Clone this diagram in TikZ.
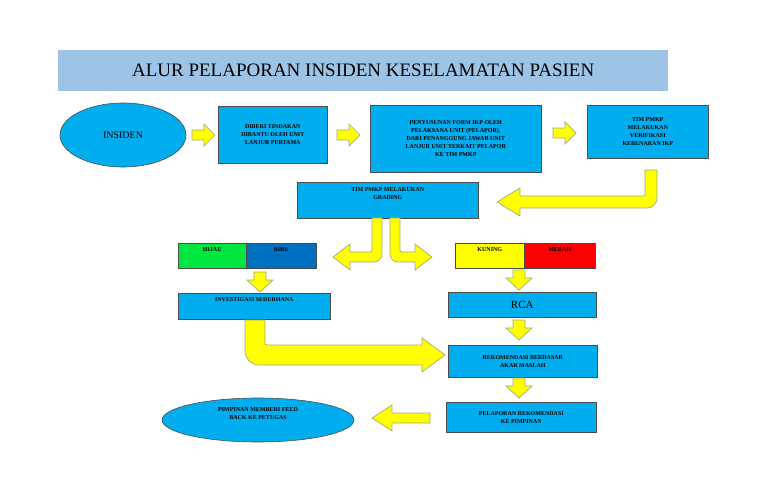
\documentclass[tikz,border=0pt]{standalone}
\usepackage{fontspec}
\setmainfont{Liberation Serif}
\usetikzlibrary{shapes.geometric}
\definecolor{bx}{HTML}{00AEEF}
\definecolor{ttl}{HTML}{9DC3E6}
\definecolor{ar}{HTML}{FFFF00}
\definecolor{arl}{HTML}{A6A68A}
\definecolor{gr}{HTML}{00E640}
\definecolor{bl}{HTML}{0070C0}
\tikzset{
 box/.style={draw=black!70,fill=bx,line width=0.6pt,inner sep=1pt,align=center,font=\fontsize{6}{8}\selectfont\bfseries},
 oval/.style={draw=black!70,fill=bx,line width=0.6pt,ellipse,inner sep=0pt,align=center,font=\fontsize{6}{8}\selectfont\bfseries},
 barr/.style={fill=ar,draw=arl,line width=0.7pt,line join=miter}
}
\begin{document}
\begin{tikzpicture}[x=1pt,y=-1pt]
\useasboundingbox (0,0) rectangle (768,503);
\fill[white] (0,0) rectangle (768,503);
\node[fill=ttl,minimum width=610,minimum height=41,anchor=north west,inner sep=0pt,font=\fontsize{19}{22}\selectfont] (title) at (58,50) {ALUR PELAPORAN INSIDEN KESELAMATAN PASIEN};
\node[oval,minimum width=126,minimum height=64,font=\fontsize{10}{12}\selectfont] (ins) at (123,135) {INSIDEN};
\node[box,minimum width=109,minimum height=57,anchor=north west] (b1) at (218,106) {DIBERI TINDAKAN\\DIBANTU OLEH UNIT\\LANJUR PERTAMA};
\node[box,minimum width=171,minimum height=67,anchor=north west] (b2) at (370,105) {PENYUSUNAN FORM IKP OLEH\\PELAKSANA UNIT (PELAPOR),\\DARI PENANGGUNG JAWAB UNIT\\LANJUR UNIT TERKAIT PELAPOR\\KE TIM PMKP};
\node[box,minimum width=121,minimum height=53,anchor=north west] (b3) at (587,105) {TIM PMKP\\MELAKUKAN\\VERIFIKASI\\KEBENARAN IKP};
\node[box,minimum width=181,minimum height=36,anchor=north west] (grd) at (297,182) {TIM PMKP MELAKUKAN\\GRADING\\[6pt]};
\node[box,fill=gr,minimum width=68,minimum height=25,anchor=north west] (hij) at (178,243) {HIJAU\\[5pt]};
\node[box,fill=bl,minimum width=70,minimum height=25,anchor=north west] (bir) at (246,243) {BIRU\\[5pt]};
\node[box,fill=ar,minimum width=69,minimum height=25,anchor=north west] (kun) at (455,243) {KUNING\\[5pt]};
\node[box,fill=red,minimum width=71,minimum height=25,anchor=north west] (mer) at (524,243) {MERAH\\[5pt]};
\node[box,minimum width=152,minimum height=26,anchor=north west] (inv) at (178,293) {INVESTIGASI SEDERHANA\\[5pt]};
\node[box,minimum width=148,minimum height=25,anchor=north west,font=\fontsize{11}{12}\selectfont] (rca) at (448,292) {RCA};
\node[box,minimum width=149,minimum height=32,anchor=north west] (rek) at (448,345) {REKOMENDASI BERDASAR\\AKAR MASLAH};
\node[box,minimum width=150,minimum height=30,anchor=north west] (pel) at (446,402) {PELAPORAN REKOMENDASI\\KE PIMPINAN};
\node[oval,minimum width=192,minimum height=44] (pim) at (258,420) {PIMPINAN MEMBERI FEED\\BACK KE PETUGAS\\[4pt]};
% right arrows
\foreach \a/\y in {192/135,337/135,553/133}{
 \draw[barr] (\a,\y-5) -- (\a+12,\y-5) -- (\a+12,\y-11) -- (\a+23,\y) -- (\a+12,\y+11) -- (\a+12,\y+5) -- (\a,\y+5) -- cycle;}
% down arrows
\foreach \x/\a in {260/272,519/270,519/320,519/378}{
 \draw[barr] (\x-6,\a) -- (\x+6,\a) -- (\x+6,\a+8) -- (\x+13,\a+8) -- (\x,\a+20) -- (\x-13,\a+8) -- (\x-6,\a+8) -- cycle;}
% left arrow
\draw[barr] (430,413) -- (392,413) -- (392,405) -- (372,418) -- (392,431) -- (392,423) -- (430,423) -- cycle;
% U arrow
\draw[barr] (645,170) -- (657,170) [rounded corners=10] -- (657,208) [sharp corners] -- (520,208) -- (520,216) -- (497,202) -- (520,188) -- (520,196) [rounded corners=2] -- (645,196) [sharp corners] -- cycle;
% grading split
\draw[barr] (372,218) -- (382,218) [rounded corners=8] -- (382,262) [sharp corners] -- (350,262) -- (350,270) -- (333,257) -- (350,244) -- (350,252) [rounded corners=2] -- (372,252) [sharp corners] -- cycle;
\draw[barr] (400,218) -- (390,218) [rounded corners=8] -- (390,262) [sharp corners] -- (415,262) -- (415,270) -- (432,257) -- (415,244) -- (415,252) [rounded corners=2] -- (400,252) [sharp corners] -- cycle;
% L arrow
\draw[barr] (245,320) -- (265,320) [rounded corners=2] -- (265,345) [sharp corners] -- (422,345) -- (422,338) -- (445,355) -- (422,372) -- (422,365) [rounded corners=14] -- (245,365) [sharp corners] -- cycle;
\end{tikzpicture}
\end{document}
